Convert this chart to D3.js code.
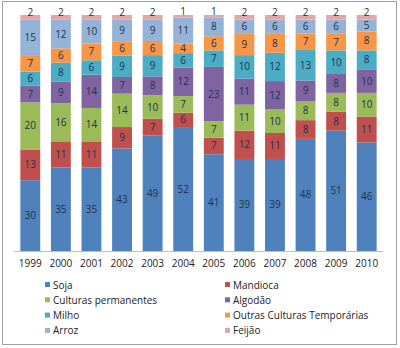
<!DOCTYPE html>
<html>
<head>
<meta charset="utf-8">
<script src="https://cdn.jsdelivr.net/npm/d3@7"></script>
<style>
body { margin: 0; background: #fff; }
text { font-family: "Open Sans", sans-serif; }
</style>
</head>
<body>
<script>
var w = 400;
var h = 348;

// Data
var years = ["1999", "2000", "2001", "2002", "2003", "2004", "2005", "2006", "2007", "2008", "2009", "2010"];
var series = ["Soja", "Mandioca", "Culturas permanentes", "Algodão", "Milho", "Outras Culturas Temporárias", "Arroz", "Feijão"];
var soja      = [30, 35, 35, 43, 49, 52, 41, 39, 39, 48, 51, 46];
var mandioca  = [13, 11, 11, 9, 7, 6, 7, 12, 11, 8, 8, 11];
var culturas  = [20, 16, 14, 14, 10, 7, 7, 11, 10, 8, 8, 10];
var algodao   = [7, 9, 14, 7, 8, 12, 23, 11, 12, 9, 8, 10];
var milho     = [6, 8, 6, 9, 9, 6, 7, 10, 12, 13, 10, 8];
var outras    = [7, 6, 7, 6, 6, 4, 6, 9, 8, 7, 7, 8];
var arroz     = [15, 12, 10, 9, 9, 11, 8, 6, 6, 6, 6, 5];
var feijao    = [2, 2, 2, 2, 2, 1, 1, 2, 2, 2, 2, 2];
var values = [soja, mandioca, culturas, algodao, milho, outras, arroz, feijao];
var colors = ["#4f81bd", "#c0504d", "#9bbb59", "#8064a2", "#4bacc6", "#f79646", "#95b3d7", "#e6a5a4"];

// rows for d3.stack, normalised to 100%
var rows = years.map(function(y, i) {
    var r = { year: y };
    series.forEach(function(s, j) { r[s] = values[j][i]; });
    return r;
});

var svg = d3.select("body")
            .append("svg")
            .attr("width", w)
            .attr("height", h);

// frame
svg.append("rect")
    .attr("x", 2.5).attr("y", 1.5)
    .attr("width", 394).attr("height", 343)
    .attr("fill", "#fff")
    .attr("stroke", "#a0a0a0");

var xScale = d3.scaleBand()
               .domain(years)
               .range([15, 382])
               .paddingInner(0.35)
               .paddingOuter(0.175);

var yScale = d3.scaleLinear()
               .domain([0, 1])
               .range([251, 15]);

var stack = d3.stack().keys(series).offset(d3.stackOffsetExpand);
var layers = stack(rows);

var g = svg.selectAll("g.layer")
           .data(layers)
           .enter()
           .append("g")
           .attr("class", "layer")
           .attr("fill", function(d, i) { return colors[i]; });

g.selectAll("rect")
    .data(function(d) { return d; })
    .enter()
    .append("rect")
    .attr("x", function(d) { return xScale(d.data.year); })
    .attr("y", function(d) { return yScale(d[1]); })
    .attr("width", xScale.bandwidth())
    .attr("height", function(d) { return yScale(d[0]) - yScale(d[1]); });

// value labels
svg.selectAll("g.lab")
    .data(layers)
    .enter()
    .append("g")
    .attr("class", "lab")
    .selectAll("text")
    .data(function(d) { return d.map(function(p) { return { p: p, key: d.key }; }); })
    .enter()
    .append("text")
    .attr("x", function(d) { return xScale(d.p.data.year) + xScale.bandwidth() / 2; })
    .attr("y", function(d) {
        var m = yScale((d.p[0] + d.p[1]) / 2);
        return d.key === "Feijão" ? m - 5 : m;
    })
    .attr("dy", "0.35em")
    .attr("text-anchor", "middle")
    .attr("font-size", "10px")
    .attr("fill", "#1f3150")
    .text(function(d) { return d.p.data[d.key]; });

// x axis
var xAxis = d3.axisBottom(xScale).tickSize(0).tickPadding(9);
var ax = svg.append("g")
            .attr("class", "axis")
            .attr("transform", "translate(0,251)")
            .call(xAxis);
ax.select(".domain").attr("stroke", "#bfbfbf").attr("d", "M14,0.5H383");
ax.selectAll("text").attr("font-size", "10px").attr("fill", "#222").attr("font-family", "Open Sans, sans-serif");

// legend
var legend = svg.selectAll("g.legend")
                .data(series)
                .enter()
                .append("g")
                .attr("class", "legend")
                .attr("transform", function(d, i) {
                    return "translate(" + (i % 2 === 0 ? 45 : 225) + "," + (285 + Math.floor(i / 2) * 15.3) + ")";
                });
legend.append("rect")
    .attr("x", 0).attr("y", -3)
    .attr("width", 5).attr("height", 5)
    .attr("fill", function(d, i) { return colors[i]; });
legend.append("text")
    .attr("x", 8).attr("y", 0)
    .attr("dy", "0.35em")
    .attr("font-size", "10px")
    .attr("fill", "#222")
    .text(function(d) { return d; });
</script>
</body>
</html>
